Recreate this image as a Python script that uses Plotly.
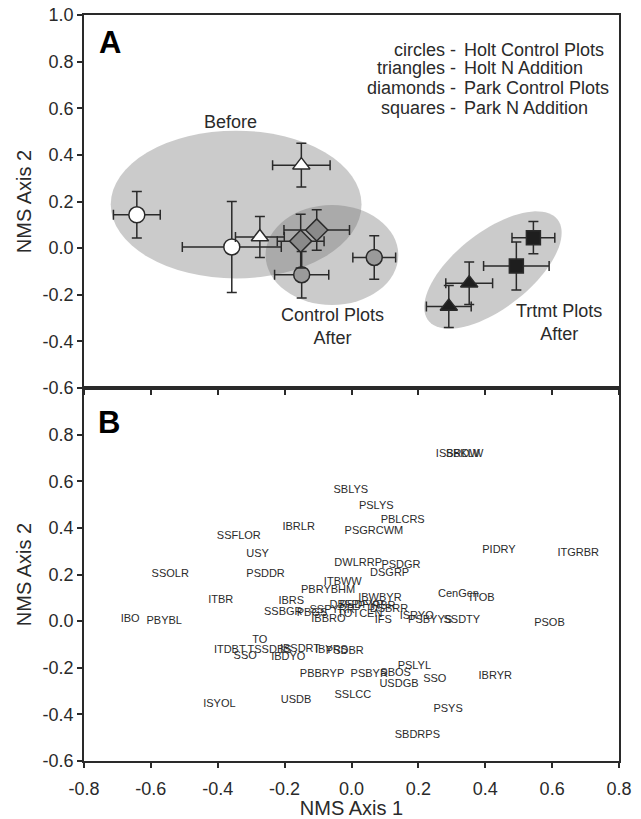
import numpy as np
import plotly.graph_objects as go

# ---------------- Panel A data (NMS axis scores, mean +/- error) ----------------
holt_ctrl_before_x = [-0.642, -0.358]
holt_ctrl_before_y = [0.143, 0.005]
holt_ctrl_before_xerr = [0.070, 0.148]
holt_ctrl_before_yerr = [0.100, 0.195]

holt_ctrl_after_x = [-0.149, 0.068]
holt_ctrl_after_y = [-0.114, -0.040]
holt_ctrl_after_xerr = [0.081, 0.064]
holt_ctrl_after_yerr = [0.100, 0.093]

holt_n_before_x = [-0.274, -0.150]
holt_n_before_y = [0.048, 0.356]
holt_n_before_xerr = [0.073, 0.086]
holt_n_before_yerr = [0.088, 0.094]

holt_n_after_x = [0.291, 0.352]
holt_n_after_y = [-0.250, -0.151]
holt_n_after_xerr = [0.067, 0.070]
holt_n_after_yerr = [0.090, 0.091]

park_ctrl_x = [-0.152, -0.104]
park_ctrl_y = [0.030, 0.078]
park_ctrl_xerr = [0.070, 0.098]
park_ctrl_yerr = [0.115, 0.087]

park_n_x = [0.493, 0.544]
park_n_y = [-0.077, 0.045]
park_n_xerr = [0.098, 0.064]
park_n_yerr = [0.103, 0.069]

legend_left = ["circles -", "triangles -", "diamonds -", "squares -"]
legend_right = ["Holt Control Plots", "Holt N Addition", "Park Control Plots", "Park N Addition"]

# ---------------- Panel B data (species scores) ----------------
species_names = [
    "ISBRDW", "SBKLW", "SBLYS", "PSLYS", "PBLCRS", "PSGRCWM", "IBRLR", "SSFLOR",
    "USY", "PIDRY", "ITGRBR", "DWLRRP", "PSDGR", "DSGRP", "SSOLR", "PSDDR",
    "ITBWW", "PBRYBHM", "CenGen", "ITOB", "ITBR", "IBRS", "IBWBYR", "SSBGR",
    "PBGS", "SSPYRR", "IBBRO", "DBFP", "PSDFYP", "PYRBR", "TOTCEN", "DSBRR",
    "IFS", "ISRYO", "PSBYYS", "SSDTY", "IBO", "PBYBL", "PSOB", "TO",
    "ITDBT", "SSO", "TSSDBS", "IBSDRT", "IBDYO", "IBYRS", "PSDBR", "PSLYL",
    "SBOS", "PSBYR", "PBBRYP", "USDGB", "SSO", "IBRYR", "SSLCC", "USDB",
    "ISYOL", "PSYS", "SBDRPS",
]
species_x = [
    0.318, 0.338, -0.002, 0.074, 0.153, 0.067, -0.158, -0.337,
    -0.281, 0.441, 0.678, 0.020, 0.148, 0.114, -0.542, -0.257,
    -0.026, -0.070, 0.320, 0.390, -0.391, -0.180, 0.085, -0.204,
    -0.118, -0.058, -0.069, -0.022, 0.030, 0.075, 0.025, 0.112,
    0.095, 0.195, 0.235, 0.330, -0.662, -0.560, 0.592, -0.274,
    -0.364, -0.318, -0.245, -0.154, -0.189, -0.060, -0.020, 0.188,
    0.132, 0.053, -0.088, 0.142, 0.249, 0.430, 0.004, -0.166,
    -0.395, 0.289, 0.197,
]
species_y = [
    0.715, 0.715, 0.561, 0.492, 0.432, 0.386, 0.403, 0.363,
    0.289, 0.306, 0.293, 0.249, 0.239, 0.206, 0.199, 0.200,
    0.168, 0.132, 0.116, 0.100, 0.089, 0.084, 0.100, 0.040,
    0.034, 0.046, 0.008, 0.068, 0.070, 0.062, 0.030, 0.050,
    0.003, 0.022, 0.005, 0.005, 0.010, 0.000, -0.011, -0.084,
    -0.123, -0.149, -0.124, -0.120, -0.155, -0.124, -0.128, -0.193,
    -0.222, -0.226, -0.229, -0.272, -0.250, -0.237, -0.316, -0.338,
    -0.355, -0.379, -0.491,
]

x_ticks = [-0.8, -0.6, -0.4, -0.2, 0.0, 0.2, 0.4, 0.6, 0.8]
x_ticktext = ["-0.8", "-0.6", "-0.4", "-0.2", "0.0", "0.2", "0.4", "0.6", "0.8"]
yA_ticks = [-0.6, -0.4, -0.2, 0.0, 0.2, 0.4, 0.6, 0.8, 1.0]
yA_ticktext = ["-0.6", "-0.4", "-0.2", "0.0", "0.2", "0.4", "0.6", "0.8", "1.0"]
yB_ticks = [-0.6, -0.4, -0.2, 0.0, 0.2, 0.4, 0.6, 0.8]
yB_ticktext = ["-0.6", "-0.4", "-0.2", "0.0", "0.2", "0.4", "0.6", "0.8"]

# ---------------- layout geometry ----------------
W, H = 641, 819
ML, MR, MT, MB = 84, 22, 15, 58
X_RANGE = [-0.8, 0.8]
Y_RANGE = [-0.6, 1.0]
px_per_x = (W - ML - MR) / (X_RANGE[1] - X_RANGE[0])
px_per_y = ((H - MT - MB) / 2) / (Y_RANGE[1] - Y_RANGE[0])

FONT = "Liberation Sans, Arial, sans-serif"
INK = "#2a2a2a"

fig = go.Figure()


def err_trace(x, y, xe, ye, symbol, fill, size=15):
    return go.Scatter(
        x=x, y=y, mode="markers", xaxis="x", yaxis="y",
        marker=dict(symbol=symbol, size=size, color=fill, line=dict(color=INK, width=1.5)),
        error_x=dict(type="data", array=xe, color=INK, thickness=1.5, width=5),
        error_y=dict(type="data", array=ye, color=INK, thickness=1.5, width=5),
        showlegend=False, hoverinfo="skip",
    )


fig.add_trace(err_trace(holt_ctrl_before_x, holt_ctrl_before_y, holt_ctrl_before_xerr,
                        holt_ctrl_before_yerr, "circle", "white", 16))
fig.add_trace(err_trace(holt_n_before_x, holt_n_before_y, holt_n_before_xerr,
                        holt_n_before_yerr, "triangle-up", "white", 15))
fig.add_trace(err_trace(holt_ctrl_after_x, holt_ctrl_after_y, holt_ctrl_after_xerr,
                        holt_ctrl_after_yerr, "circle", "#9a9a9a", 16))
fig.add_trace(err_trace(park_ctrl_x, park_ctrl_y, park_ctrl_xerr,
                        park_ctrl_yerr, "diamond", "#8a8a8a", 17))
fig.add_trace(err_trace(holt_n_after_x, holt_n_after_y, holt_n_after_xerr,
                        holt_n_after_yerr, "triangle-up", "#1e1e1e", 15))
fig.add_trace(err_trace(park_n_x, park_n_y, park_n_xerr,
                        park_n_yerr, "square", "#1e1e1e", 14))

fig.add_trace(go.Scatter(
    x=species_x, y=species_y, text=species_names, mode="text", xaxis="x2", yaxis="y2",
    textposition="middle center",
    textfont=dict(family=FONT, size=11, color=INK),
    showlegend=False, hoverinfo="skip",
))

# ---------------- ellipses (group envelopes) ----------------
fill = "rgba(110,110,110,0.36)"
shapes = [
    dict(type="circle", xref="x", yref="y", x0=-0.72, x1=0.03, y0=-0.13, y1=0.504,
         fillcolor=fill, line=dict(width=0), layer="below"),
    dict(type="circle", xref="x", yref="y", x0=-0.257, x1=0.14, y0=-0.244, y1=0.185,
         fillcolor=fill, line=dict(width=0), layer="below"),
]
# rotated ellipse for treatment plots (centre in data units, radii in px, angle in degrees)
tr_cx, tr_cy, tr_a, tr_b, tr_ang = 0.423, -0.094, 82, 38, 38
t = np.linspace(0, 2 * np.pi, 90)
th = np.deg2rad(tr_ang)
ex = tr_cx + (tr_a * np.cos(t) * np.cos(th) - tr_b * np.sin(t) * np.sin(th)) / px_per_x
ey = tr_cy + (tr_a * np.cos(t) * np.sin(th) + tr_b * np.sin(t) * np.cos(th)) / px_per_y
path = "M " + " L ".join(f"{a:.4f},{b:.4f}" for a, b in zip(ex, ey)) + " Z"
shapes.append(dict(type="path", xref="x", yref="y", path=path,
                   fillcolor=fill, line=dict(width=0), layer="below"))

# ---------------- annotations ----------------
ann = []
tf = dict(family=FONT, size=18, color=INK)
ann.append(dict(x=-0.721, y=0.881, xref="x", yref="y", text="<b>A</b>", showarrow=False,
                font=dict(family=FONT, size=31, color="black")))
ann.append(dict(x=-0.726, y=0.85, xref="x2", yref="y2", text="<b>B</b>", showarrow=False,
                font=dict(family=FONT, size=31, color="black")))
legend_y = [0.852, 0.771, 0.685, 0.600]
for lt, rt, yy in zip(legend_left, legend_right, legend_y):
    ann.append(dict(x=0.318, y=yy, xref="x", yref="y", text=lt, showarrow=False,
                    xanchor="right", font=tf))
    ann.append(dict(x=0.330, y=yy, xref="x", yref="y", text=rt, showarrow=False,
                    xanchor="left", font=tf))
ann.append(dict(x=-0.363, y=0.542, xref="x", yref="y", text="Before", showarrow=False, font=tf))
ann.append(dict(x=-0.057, y=-0.337, xref="x", yref="y", text="Control Plots<br>After",
                showarrow=False, font=tf))
ann.append(dict(x=0.621, y=-0.320, xref="x", yref="y", text="Trtmt Plots<br>After",
                showarrow=False, font=tf))

axis_common = dict(
    showline=True, linecolor=INK, linewidth=1.5, mirror=True, ticks="outside",
    ticklen=5, tickwidth=1.5, tickcolor=INK, showgrid=False, zeroline=False,
    automargin=False, tickfont=dict(family=FONT, size=18, color=INK),
)

title_font = dict(family=FONT, size=20, color=INK)
fig.update_layout(
    width=W, height=H, margin=dict(l=ML, r=MR, t=MT, b=MB, autoexpand=False),
    paper_bgcolor="white", plot_bgcolor="white",
    shapes=shapes, annotations=ann,
    xaxis=dict(axis_common, domain=[0, 1], anchor="y", range=X_RANGE,
               tickvals=x_ticks, ticktext=x_ticktext, showticklabels=False),
    yaxis=dict(axis_common, domain=[0.5, 1], anchor="x", range=Y_RANGE,
               tickvals=yA_ticks, ticktext=yA_ticktext,
               title=dict(text="NMS Axis 2", font=title_font, standoff=6)),
    xaxis2=dict(axis_common, domain=[0, 1], anchor="y2", range=X_RANGE,
                tickvals=x_ticks, ticktext=x_ticktext, ticklabelstandoff=6,
                title=dict(text="NMS Axis 1", font=title_font, standoff=6)),
    yaxis2=dict(axis_common, domain=[0, 0.5], anchor="x2", range=Y_RANGE,
                tickvals=yB_ticks, ticktext=yB_ticktext,
                title=dict(text="NMS Axis 2", font=title_font, standoff=6)),
)

fig.write_html("out.html")
